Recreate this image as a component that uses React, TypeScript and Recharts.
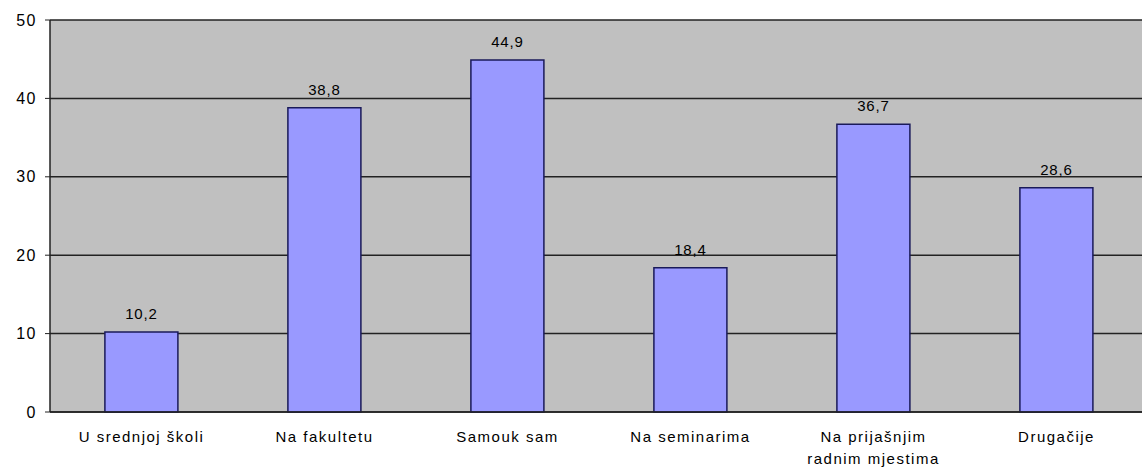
import { BarChart, Bar, XAxis, YAxis, CartesianGrid, LabelList } from "recharts";

const categories = ["U srednjoj školi", "Na fakultetu", "Samouk sam", "Na seminarima", "Na prijašnjim radnim mjestima", "Drugačije"];
const values = [10.2, 38.8, 44.9, 18.4, 36.7, 28.6];
const yTicks = [0, 10, 20, 30, 40, 50];

const data = categories.map((name, i) => ({ name, value: values[i] }));

const FONT = "'Liberation Sans', Arial, sans-serif";

// splits long category names in two lines like the original
const CategoryTick = (props: any) => {
    const { x, y, payload } = props;
    const label: string = payload.value;
    let lines = [label];
    if (label.length > 20) {
        const words = label.split(" ");
        lines = [words.slice(0, 2).join(" "), words.slice(2).join(" ")];
    }
    return (
        <text x={x} y={y} textAnchor="middle" fill="#000" fontSize={15} fontFamily={FONT} letterSpacing={1.5}>
            {lines.map((line, i) => (
                <tspan key={i} x={x} dy={i === 0 ? 22 : 22}>{line}</tspan>
            ))}
        </text>
    );
};

export default function App() {
    return (
        <div style={{ position: "absolute", left: 0, top: 0, width: 1142, height: 475, overflow: "hidden", background: "#fff" }}>
            <BarChart width={1160} height={475} data={data} margin={{ top: 20, right: 12, left: 0, bottom: 0 }} barCategoryGap="30%">
                <CartesianGrid vertical={false} fill="#c0c0c0" stroke="#222" strokeWidth={1.5} />
                <XAxis dataKey="name" height={63} tick={<CategoryTick />} tickLine={false} axisLine={{ stroke: "#222", strokeWidth: 1.5 }} interval={0} />
                <YAxis width={50} domain={[0, 50]} ticks={yTicks} tickSize={5} tickMargin={8}
                    tick={{ fill: "#000", fontSize: 16, fontFamily: FONT, letterSpacing: 1.5 }}
                    axisLine={{ stroke: "#222", strokeWidth: 1.5 }} tickLine={{ stroke: "#222" }} />
                <Bar dataKey="value" fill="#9999ff" stroke="#1a1a5a" strokeWidth={1.5} isAnimationActive={false}>
                    <LabelList dataKey="value" position="top" offset={13} fill="#000" fontSize={15} fontFamily={FONT} letterSpacing={0.8}
                        formatter={(v: any) => String(v).replace(".", ",")} />
                </Bar>
            </BarChart>
        </div>
    );
}
